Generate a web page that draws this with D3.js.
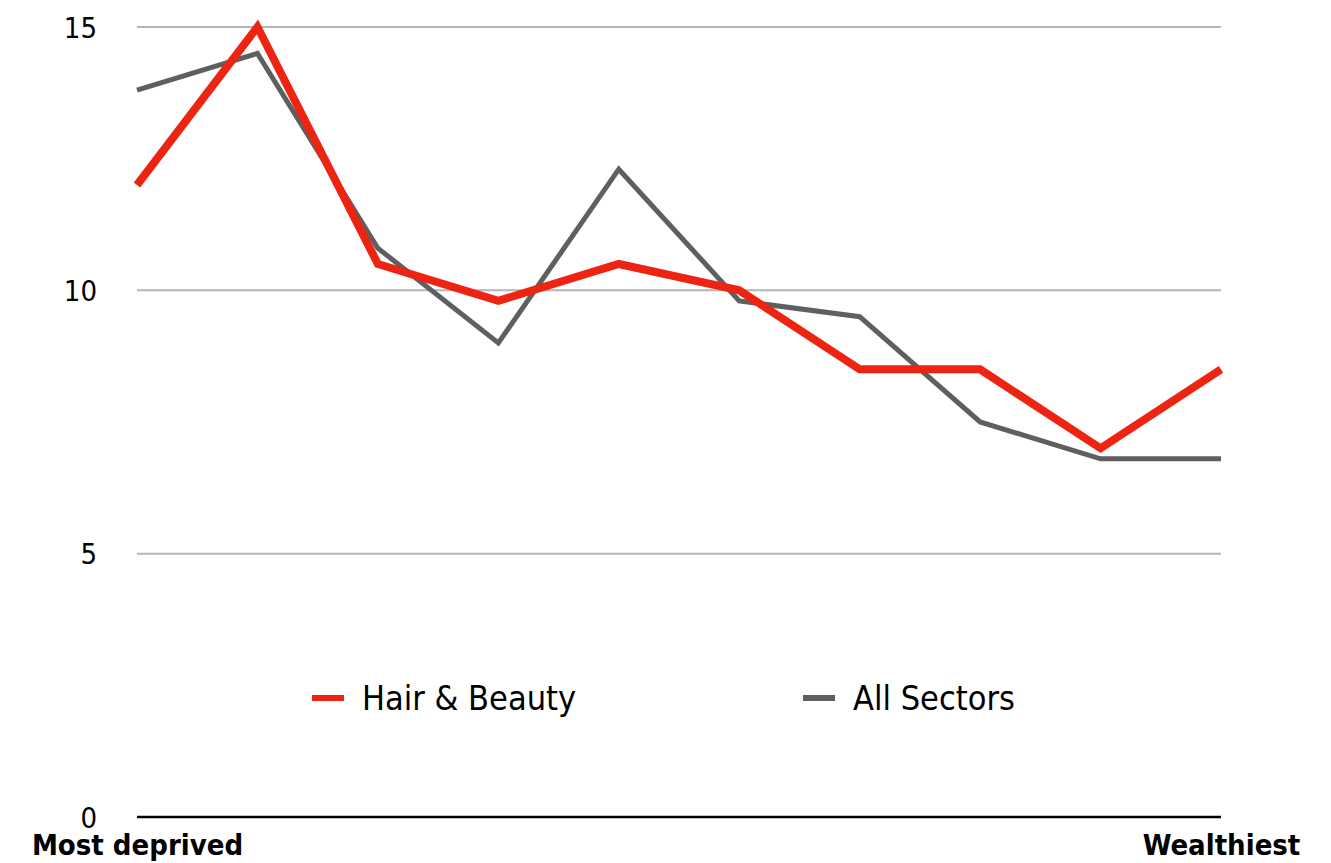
<!DOCTYPE html>
<html>
<head>
<meta charset="utf-8">
<script src="https://cdn.jsdelivr.net/npm/d3@7"></script>
<style>
  body { margin: 0; background: #fff; }
  svg text { font-family: "DejaVu Sans Condensed", "DejaVu Sans", sans-serif; fill: #000; }
</style>
</head>
<body>
<svg id="chart" width="1331" height="863"></svg>
<script>
// data
const deciles = ['Most deprived', '', '', '', '', '', '', '', '', 'Wealthiest'];
const hairBeauty = [12.0, 15.0, 10.5, 9.8, 10.5, 10.0, 8.5, 8.5, 7.0, 8.5];
const allSectors = [13.8, 14.5, 10.8, 9.0, 12.3, 9.8, 9.5, 7.5, 6.8, 6.8];
const yTicks = [0, 5, 10, 15];
const seriesNames = ['Hair & Beauty', 'All Sectors'];
const seriesColors = ['#ec2411', '#5f5f5f'];

const svg = d3.select('#chart');

const x = d3.scalePoint()
  .domain(d3.range(deciles.length))
  .range([137, 1221]);

const y = d3.scaleLinear()
  .domain([0, 15])
  .range([817, 27]);

// gridlines
svg.append('g')
  .selectAll('line')
  .data(yTicks.filter(t => t > 0))
  .enter()
  .append('line')
  .attr('x1', 137)
  .attr('x2', 1221)
  .attr('y1', d => y(d))
  .attr('y2', d => y(d))
  .attr('stroke', '#b5b5b5')
  .attr('stroke-width', 2);

// baseline
svg.append('line')
  .attr('x1', 137)
  .attr('x2', 1221)
  .attr('y1', y(0))
  .attr('y2', y(0))
  .attr('stroke', '#000')
  .attr('stroke-width', 2.5);

// y axis labels
const yAxis = svg.append('g')
  .attr('transform', 'translate(97,0)')
  .call(d3.axisLeft(y).tickValues(yTicks).tickSize(0).tickPadding(0));
yAxis.select('.domain').remove();
yAxis.selectAll('text')
  .attr('font-size', 29)
  .attr('dy', '0.35em')
  .attr('font-family', '"DejaVu Sans Condensed", "DejaVu Sans", sans-serif')
  .attr('fill', '#000');

// x axis labels
const xAxis = svg.append('g')
  .attr('transform', `translate(0,${y(0)})`)
  .call(d3.axisBottom(x).tickSize(0).tickPadding(17).tickFormat(i => deciles[i]));
xAxis.select('.domain').remove();
xAxis.selectAll('text')
  .attr('font-size', 29)
  .attr('font-weight', 'bold')
  .attr('font-family', '"DejaVu Sans Condensed", "DejaVu Sans", sans-serif')
  .attr('fill', '#000');

const line = d3.line()
  .x((d, i) => x(i))
  .y(d => y(d));

// all sectors first, hair & beauty drawn on top
svg.append('path')
  .datum(allSectors)
  .attr('d', line)
  .attr('fill', 'none')
  .attr('stroke', seriesColors[1])
  .attr('stroke-width', 5)
  .attr('stroke-linejoin', 'miter');

svg.append('path')
  .datum(hairBeauty)
  .attr('d', line)
  .attr('fill', 'none')
  .attr('stroke', seriesColors[0])
  .attr('stroke-width', 8)
  .attr('stroke-linejoin', 'miter');

// legend
const legendX = [312, 803];
const legend = svg.append('g')
  .selectAll('g')
  .data(seriesNames)
  .enter()
  .append('g')
  .attr('transform', (d, i) => `translate(${legendX[i]},698)`);

legend.append('line')
  .attr('x1', 0)
  .attr('x2', 32)
  .attr('stroke', (d, i) => seriesColors[i])
  .attr('stroke-width', 6);

legend.append('text')
  .attr('x', 50)
  .attr('y', 12)
  .attr('font-size', 34)
  .text(d => d);
</script>
</body>
</html>
